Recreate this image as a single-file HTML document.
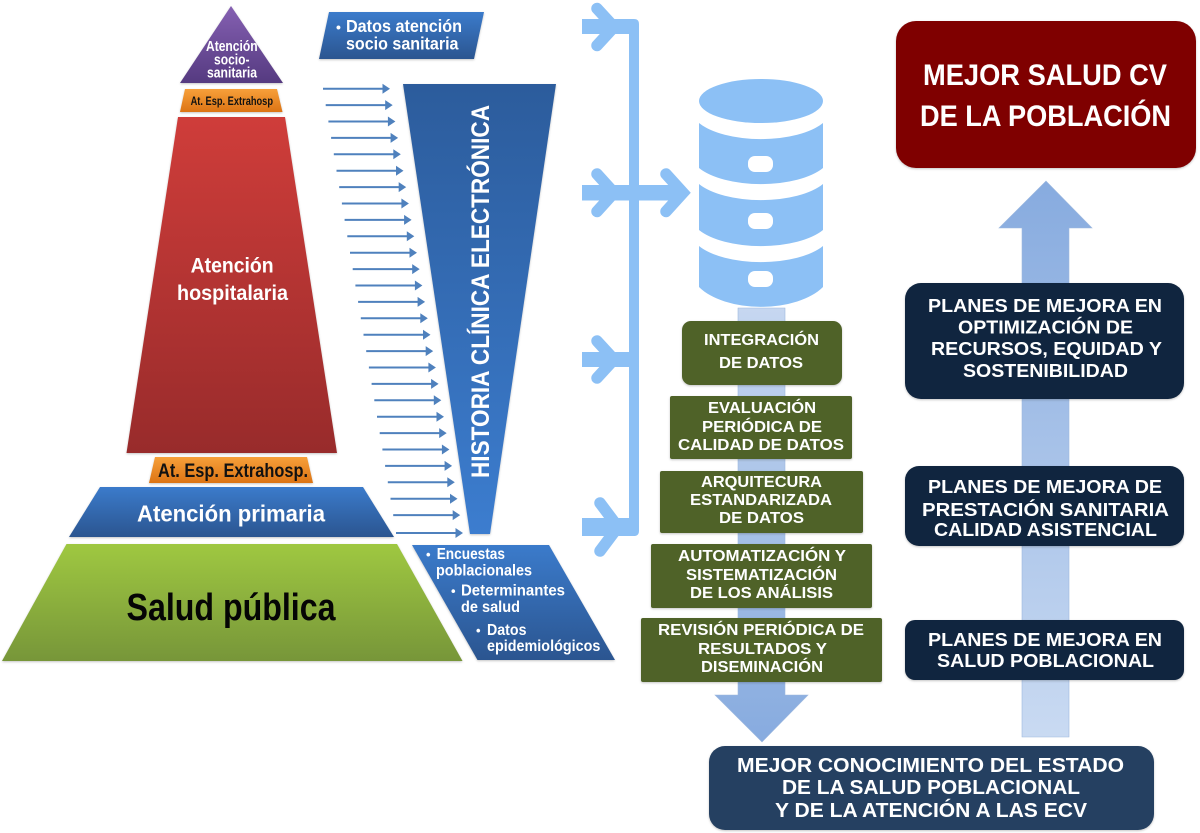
<!DOCTYPE html>
<html lang="es">
<head>
<meta charset="utf-8">
<title>Diagrama</title>
<style>
html,body{margin:0;padding:0;background:#fff;width:1200px;height:833px;overflow:hidden}
svg{display:block}
text{font-family:"Liberation Sans",sans-serif;font-weight:bold;fill:#fff}
.s{filter:drop-shadow(0 1.2px 1px rgba(60,60,60,.3))}
</style>
</head>
<body>
<svg width="1200" height="833" viewBox="0 0 1200 833" xmlns="http://www.w3.org/2000/svg">
<defs>
<linearGradient id="pur" x1="0" y1="0" x2="0" y2="1"><stop offset="0" stop-color="#8560b2"/><stop offset="1" stop-color="#553a80"/></linearGradient>
<linearGradient id="ora" x1="0" y1="0" x2="0" y2="1"><stop offset="0" stop-color="#f7a03a"/><stop offset="1" stop-color="#dc7414"/></linearGradient>
<linearGradient id="red" x1="0" y1="0" x2="0" y2="1"><stop offset="0" stop-color="#cf3d3a"/><stop offset="1" stop-color="#982b2b"/></linearGradient>
<linearGradient id="blu" x1="0" y1="0" x2="0" y2="1"><stop offset="0" stop-color="#3b7bcb"/><stop offset="1" stop-color="#2b5590"/></linearGradient>
<linearGradient id="grn" x1="0" y1="0" x2="0" y2="1"><stop offset="0" stop-color="#9fc841"/><stop offset="1" stop-color="#779639"/></linearGradient>
<linearGradient id="fun" x1="0" y1="0" x2="0" y2="1"><stop offset="0" stop-color="#2c5c9c"/><stop offset="1" stop-color="#3c7dcf"/></linearGradient>
<linearGradient id="down" x1="0" y1="0" x2="0" y2="1"><stop offset="0" stop-color="#c6d7f0"/><stop offset="1" stop-color="#87abdf"/></linearGradient>
<linearGradient id="up" x1="0" y1="1" x2="0" y2="0"><stop offset="0" stop-color="#c9daf2"/><stop offset="1" stop-color="#87abdf"/></linearGradient>
<g id="a"><path d="M0 0H61" stroke="#4f81bd" stroke-width="2" fill="none"/><path d="M59.5 -5L67 0L59.5 5Z" fill="#4f81bd"/></g>
</defs>

<!-- Pyramid -->
<g class="s">
<polygon points="231,6 283,83 180,83" fill="url(#pur)"/>
<polygon points="185,89 277,89 282.5,112 180,112" fill="url(#ora)"/>
<polygon points="178,117 285,117 337,453 126.5,453" fill="url(#red)"/>
<polygon points="155,457 307,457 313,483 149,483" fill="url(#ora)"/>
<polygon points="100,487 363,487 394,537 69,537" fill="url(#blu)"/>
<polygon points="66.5,544 397,544 462.5,661 2,661" fill="url(#grn)"/>
<polygon points="329,12 484,12 474,59 319,59" fill="url(#blu)"/>
<polygon points="412,545 549,545 615,660 477.5,660" fill="url(#blu)"/>
<polygon points="403,84 556,84 490,534 470,534" fill="url(#fun)"/>
</g>

<text x="206" y="51" font-size="15" textLength="51.6" lengthAdjust="spacingAndGlyphs">Atención</text>
<text x="214" y="64.5" font-size="15" textLength="35.5" lengthAdjust="spacingAndGlyphs">socio-</text>
<text x="207" y="77.7" font-size="15" textLength="50" lengthAdjust="spacingAndGlyphs">sanitaria</text>
<text x="190.6" y="105" font-size="11.5" textLength="82.4" lengthAdjust="spacingAndGlyphs" style="fill:#111">At. Esp. Extrahosp</text>
<text x="190.6" y="272.7" font-size="21" textLength="83" lengthAdjust="spacingAndGlyphs">Atención</text>
<text x="177" y="300" font-size="21" textLength="111" lengthAdjust="spacingAndGlyphs">hospitalaria</text>
<text x="158" y="477" font-size="19" textLength="150" lengthAdjust="spacingAndGlyphs" style="fill:#111">At. Esp. Extrahosp.</text>
<text x="137" y="521.7" font-size="23" textLength="188" lengthAdjust="spacingAndGlyphs">Atención primaria</text>
<text x="126.5" y="620" font-size="38" textLength="209" lengthAdjust="spacingAndGlyphs" style="fill:#050505">Salud pública</text>

<text x="336" y="32" font-size="14">•</text>
<text x="346" y="32" font-size="17.5" textLength="116" lengthAdjust="spacingAndGlyphs">Datos atención</text>
<text x="346" y="49.5" font-size="17.5" textLength="112.5" lengthAdjust="spacingAndGlyphs">socio sanitaria</text>

<text x="426" y="559" font-size="13">•</text>
<text x="436.7" y="559" font-size="15.5" textLength="68.3" lengthAdjust="spacingAndGlyphs">Encuestas</text>
<text x="436" y="575.7" font-size="15.5" textLength="96" lengthAdjust="spacingAndGlyphs">poblacionales</text>
<text x="451" y="595.7" font-size="13">•</text>
<text x="461" y="595.7" font-size="15.5" textLength="104" lengthAdjust="spacingAndGlyphs">Determinantes</text>
<text x="461" y="612" font-size="15.5" textLength="59" lengthAdjust="spacingAndGlyphs">de salud</text>
<text x="476" y="635" font-size="13">•</text>
<text x="487" y="635" font-size="15.5" textLength="39.5" lengthAdjust="spacingAndGlyphs">Datos</text>
<text x="487" y="651" font-size="15.5" textLength="113.4" lengthAdjust="spacingAndGlyphs">epidemiológicos</text>

<text transform="translate(489 478) rotate(-90)" font-size="25" textLength="373" lengthAdjust="spacingAndGlyphs">HISTORIA CLÍNICA ELECTRÓNICA</text>

<!-- Small arrows -->
<use href="#a" x="323" y="88.7"/>
<use href="#a" x="325.7" y="105.1"/>
<use href="#a" x="328.4" y="121.5"/>
<use href="#a" x="331.1" y="137.9"/>
<use href="#a" x="333.8" y="154.3"/>
<use href="#a" x="336.5" y="170.7"/>
<use href="#a" x="339.2" y="187.1"/>
<use href="#a" x="341.9" y="203.5"/>
<use href="#a" x="344.6" y="219.9"/>
<use href="#a" x="347.3" y="236.3"/>
<use href="#a" x="350" y="252.7"/>
<use href="#a" x="352.7" y="269.1"/>
<use href="#a" x="355.4" y="285.5"/>
<use href="#a" x="358.1" y="301.9"/>
<use href="#a" x="360.8" y="318.3"/>
<use href="#a" x="363.5" y="334.7"/>
<use href="#a" x="366.2" y="351.1"/>
<use href="#a" x="368.9" y="367.5"/>
<use href="#a" x="371.6" y="383.9"/>
<use href="#a" x="374.3" y="400.3"/>
<use href="#a" x="377" y="416.7"/>
<use href="#a" x="379.7" y="433.1"/>
<use href="#a" x="382.4" y="449.5"/>
<use href="#a" x="385.1" y="465.9"/>
<use href="#a" x="387.8" y="482.3"/>
<use href="#a" x="390.5" y="498.7"/>
<use href="#a" x="393.2" y="515.1"/>
<use href="#a" x="396" y="533"/>

<!-- Bracket -->
<path d="M582 19H634Q639 19 639 24V531Q639 536 634 536H582V518H629V367H582V352H629V200.5H582V185H629V34H582Z" fill="#8cc0f5"/>
<path d="M639 185H680V200.5H639Z" fill="#8cc0f5"/>
<g fill="none" stroke="#8cc0f5" stroke-linecap="round" stroke-linejoin="miter" stroke-width="11.5">
<path d="M597 8.5L614 27L597 45.5"/>
<path d="M597 174L614 192.7L597 211.5"/>
<path d="M597 341L614 359.5L597 378"/>
<path d="M600 503L618 527L600 551"/>
<path d="M666 174L683 192.7L666 211.5"/>
</g>

<!-- Database -->
<g fill="#8cc0f5">
<ellipse cx="761" cy="101" rx="62" ry="22"/>
<path d="M699 123A70 30 0 0 0 823 123V168A70 30 0 0 1 699 168Z"/>
<path d="M699 184A70 30 0 0 0 823 184V230A70 30 0 0 1 699 230Z"/>
<path d="M699 246A70 30 0 0 0 823 246V287A70 37 0 0 1 699 287Z"/>
</g>
<g fill="#fff">
<rect x="748" y="156" width="25" height="16" rx="7"/>
<rect x="748" y="213" width="25" height="16" rx="7"/>
<rect x="748" y="271" width="25" height="16" rx="7"/>
</g>

<!-- Down arrow -->
<polygon points="738,308 785,308 785,695 808,695 762,742 715,695 738,695" fill="url(#down)" stroke="#9db8de" stroke-width=".6"/>

<!-- Green boxes -->
<g fill="#4f6228" class="s">
<rect x="682" y="321" width="160" height="64" rx="9"/>
<rect x="670" y="396" width="182" height="63" rx="2"/>
<rect x="660" y="471" width="203" height="62" rx="2"/>
<rect x="651" y="544" width="221" height="64" rx="2"/>
<rect x="641" y="618" width="241" height="64" rx="2"/>
</g>
<g font-size="16">
<text x="704" y="345" font-size="16" textLength="115" lengthAdjust="spacingAndGlyphs">INTEGRACIÓN</text>
<text x="719" y="368" font-size="16" textLength="84" lengthAdjust="spacingAndGlyphs">DE DATOS</text>
<text x="708" y="413" font-size="16" textLength="108" lengthAdjust="spacingAndGlyphs">EVALUACIÓN</text>
<text x="702" y="432" font-size="16" textLength="120" lengthAdjust="spacingAndGlyphs">PERIÓDICA DE</text>
<text x="678" y="450" font-size="16" textLength="166" lengthAdjust="spacingAndGlyphs">CALIDAD DE DATOS</text>
<text x="701" y="487" font-size="16" textLength="121" lengthAdjust="spacingAndGlyphs">ARQUITECURA</text>
<text x="690" y="505" font-size="16" textLength="142" lengthAdjust="spacingAndGlyphs">ESTANDARIZADA</text>
<text x="719" y="523" font-size="16" textLength="85" lengthAdjust="spacingAndGlyphs">DE DATOS</text>
<text x="678" y="561" font-size="16" textLength="168" lengthAdjust="spacingAndGlyphs">AUTOMATIZACIÓN Y</text>
<text x="686" y="580" font-size="16" textLength="151" lengthAdjust="spacingAndGlyphs">SISTEMATIZACIÓN</text>
<text x="690" y="598" font-size="16" textLength="143" lengthAdjust="spacingAndGlyphs">DE LOS ANÁLISIS</text>
<text x="658" y="635" font-size="16" textLength="206" lengthAdjust="spacingAndGlyphs">REVISIÓN PERIÓDICA DE</text>
<text x="698" y="654" font-size="16" textLength="129" lengthAdjust="spacingAndGlyphs">RESULTADOS Y</text>
<text x="701" y="672" font-size="16" textLength="122" lengthAdjust="spacingAndGlyphs">DISEMINACIÓN</text>
</g>

<!-- Up arrow -->
<polygon points="1022,737 1069,737 1069,228 1092,228 1046,181 999,228 1022,228" fill="url(#up)" stroke="#9db8de" stroke-width=".6"/>

<!-- Right column boxes -->
<g class="s">
<rect x="896" y="21" width="300" height="147" rx="20" fill="#7f0000"/>
<rect x="905" y="283" width="279" height="116" rx="16" fill="#10253f"/>
<rect x="905" y="466" width="279" height="80" rx="14" fill="#10253f"/>
<rect x="905" y="620" width="279" height="60" rx="10" fill="#10253f"/>
<rect x="709" y="746" width="445" height="84" rx="16" fill="#254061"/>
</g>

<text x="923" y="85" font-size="30" textLength="244" lengthAdjust="spacingAndGlyphs">MEJOR SALUD CV</text>
<text x="920" y="126" font-size="30" textLength="251" lengthAdjust="spacingAndGlyphs">DE LA POBLACIÓN</text>

<text x="928" y="312" font-size="18" textLength="234" lengthAdjust="spacingAndGlyphs">PLANES DE MEJORA EN</text>
<text x="958" y="333.5" font-size="18" textLength="175" lengthAdjust="spacingAndGlyphs">OPTIMIZACIÓN DE</text>
<text x="931" y="355" font-size="18" textLength="231" lengthAdjust="spacingAndGlyphs">RECURSOS, EQUIDAD Y</text>
<text x="963" y="377" font-size="18" textLength="165" lengthAdjust="spacingAndGlyphs">SOSTENIBILIDAD</text>

<text x="928" y="493" font-size="18" textLength="234" lengthAdjust="spacingAndGlyphs">PLANES DE MEJORA DE</text>
<text x="922" y="516" font-size="18" textLength="247" lengthAdjust="spacingAndGlyphs">PRESTACIÓN SANITARIA</text>
<text x="934" y="536" font-size="18" textLength="223" lengthAdjust="spacingAndGlyphs">CALIDAD ASISTENCIAL</text>

<text x="928" y="646" font-size="18" textLength="234" lengthAdjust="spacingAndGlyphs">PLANES DE MEJORA EN</text>
<text x="937" y="667" font-size="18" textLength="217" lengthAdjust="spacingAndGlyphs">SALUD POBLACIONAL</text>

<text x="737" y="772" font-size="20" textLength="387" lengthAdjust="spacingAndGlyphs">MEJOR CONOCIMIENTO DEL ESTADO</text>
<text x="782" y="794" font-size="20" textLength="298" lengthAdjust="spacingAndGlyphs">DE LA SALUD POBLACIONAL</text>
<text x="775" y="817" font-size="20" textLength="312" lengthAdjust="spacingAndGlyphs">Y DE LA ATENCIÓN A LAS ECV</text>
</svg>
</body>
</html>
